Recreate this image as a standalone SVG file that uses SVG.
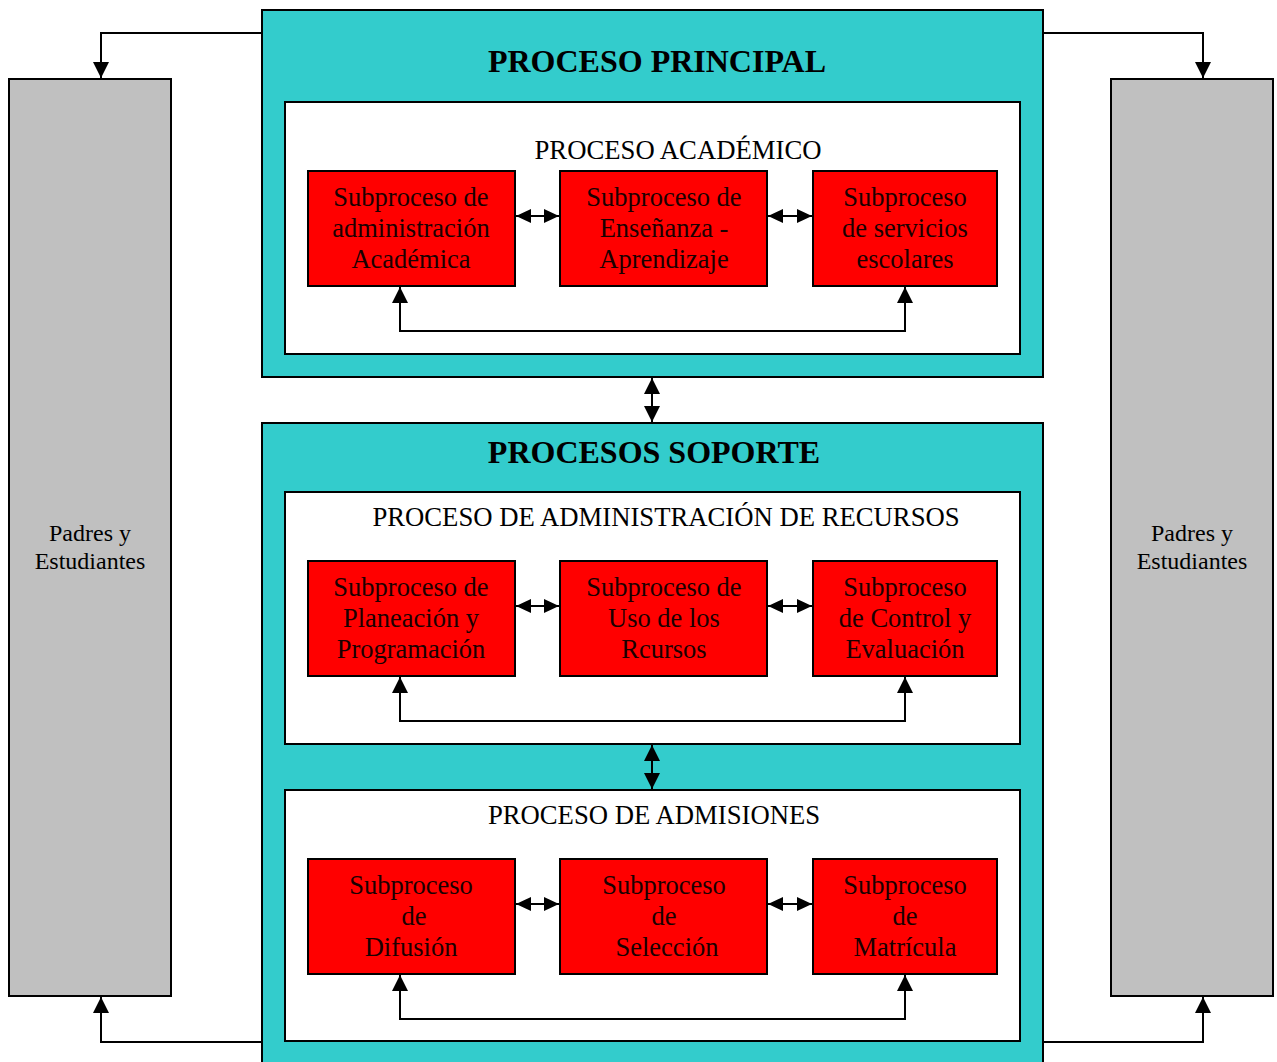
<svg xmlns="http://www.w3.org/2000/svg" width="1277" height="1062" viewBox="0 0 1277 1062">
<style>
.teal{fill:#33cccc;stroke:#000;stroke-width:2}
.white{fill:#fff;stroke:#000;stroke-width:2}
.gray{fill:#c0c0c0;stroke:#000;stroke-width:2}
.red{fill:#ff0000;stroke:#000;stroke-width:2}
.t{font-family:"Liberation Serif","Times New Roman",serif;fill:#000;text-anchor:middle}
.h{font-size:32px;font-weight:bold}
.s{font-size:26.7px}
.r{font-size:26.5px;fill:#1a0000}
.p{font-size:24px}
.c{fill:none;stroke:#000;stroke-width:2}
</style>
<defs>
<marker id="a" markerUnits="userSpaceOnUse" markerWidth="17" markerHeight="16" refX="16" refY="8" orient="auto-start-reverse"><path d="M0,0 L16,8 L0,16 z" fill="#000"/></marker>
<marker id="b" markerUnits="userSpaceOnUse" markerWidth="16" markerHeight="14" refX="15" refY="7" orient="auto-start-reverse"><path d="M0,0 L15,7 L0,14 z" fill="#000"/></marker>
</defs>
<rect width="1277" height="1062" fill="#fff"/>
<g id="padres-izq"><rect class="gray" x="9" y="79" width="162" height="917"/><text class="t p" x="90" y="541">Padres y</text><text class="t p" x="90" y="569">Estudiantes</text></g>
<g id="padres-der"><rect class="gray" x="1111" y="79" width="162" height="917"/><text class="t p" x="1192" y="541">Padres y</text><text class="t p" x="1192" y="569">Estudiantes</text></g>
<g id="proceso-principal"><rect class="teal" x="262" y="10" width="781" height="367"/><text class="t h" x="657" y="72">PROCESO PRINCIPAL</text></g>
<g id="proceso-academico"><rect class="white" x="285" y="102" width="735" height="252"/><text class="t s" x="678" y="159">PROCESO ACADÉMICO</text></g>
<g id="procesos-soporte"><rect class="teal" x="262" y="423" width="781" height="650"/><text class="t h" x="654" y="463">PROCESOS SOPORTE</text></g>
<g id="proceso-recursos"><rect class="white" x="285" y="492" width="735" height="252"/><text class="t s" x="666" y="526">PROCESO DE ADMINISTRACIÓN DE RECURSOS</text></g>
<g id="proceso-admisiones"><rect class="white" x="285" y="790" width="735" height="251"/><text class="t s" x="654" y="824">PROCESO DE ADMISIONES</text></g>
<g id="sub-admin-academica"><rect class="red" x="308" y="171" width="207" height="115"/><text class="t r" x="411" y="206">Subproceso de</text><text class="t r" x="411" y="237">administración</text><text class="t r" x="411" y="268">Académica</text></g>
<g id="sub-ensenanza"><rect class="red" x="560" y="171" width="207" height="115"/><text class="t r" x="664" y="206">Subproceso de</text><text class="t r" x="664" y="237">Enseñanza -</text><text class="t r" x="664" y="268">Aprendizaje</text></g>
<g id="sub-servicios"><rect class="red" x="813" y="171" width="184" height="115"/><text class="t r" x="905" y="206">Subproceso</text><text class="t r" x="905" y="237">de servicios</text><text class="t r" x="905" y="268">escolares</text></g>
<g id="sub-planeacion"><rect class="red" x="308" y="561" width="207" height="115"/><text class="t r" x="411" y="596">Subproceso de</text><text class="t r" x="411" y="627">Planeación y</text><text class="t r" x="411" y="658">Programación</text></g>
<g id="sub-uso"><rect class="red" x="560" y="561" width="207" height="115"/><text class="t r" x="664" y="596">Subproceso de</text><text class="t r" x="664" y="627">Uso de los</text><text class="t r" x="664" y="658">Rcursos</text></g>
<g id="sub-control"><rect class="red" x="813" y="561" width="184" height="115"/><text class="t r" x="905" y="596">Subproceso</text><text class="t r" x="905" y="627">de Control y</text><text class="t r" x="905" y="658">Evaluación</text></g>
<g id="sub-difusion"><rect class="red" x="308" y="859" width="207" height="115"/><text class="t r" x="411" y="894">Subproceso</text><text class="t r" x="414" y="925">de</text><text class="t r" x="411" y="956">Difusión</text></g>
<g id="sub-seleccion"><rect class="red" x="560" y="859" width="207" height="115"/><text class="t r" x="664" y="894">Subproceso</text><text class="t r" x="664" y="925">de</text><text class="t r" x="667" y="956">Selección</text></g>
<g id="sub-matricula"><rect class="red" x="813" y="859" width="184" height="115"/><text class="t r" x="905" y="894">Subproceso</text><text class="t r" x="905" y="925">de</text><text class="t r" x="905" y="956">Matrícula</text></g>
<g id="connectors">
<path class="c" d="M262,33 H101 V78" marker-end="url(#a)"/>
<path class="c" d="M1043,33 H1203 V78" marker-end="url(#a)"/>
<path class="c" d="M262,1042 H101 V997" marker-end="url(#a)"/>
<path class="c" d="M1043,1042 H1203 V997" marker-end="url(#a)"/>
<path class="c" d="M652,378 V422" marker-start="url(#a)" marker-end="url(#a)"/>
<path class="c" d="M652,745 V789" marker-start="url(#a)" marker-end="url(#a)"/>
<path class="c" d="M516,216 H559" marker-start="url(#b)" marker-end="url(#b)"/>
<path class="c" d="M768,216 H812" marker-start="url(#b)" marker-end="url(#b)"/>
<path class="c" d="M400,287 V331 H905 V287" marker-start="url(#a)" marker-end="url(#a)"/>
<path class="c" d="M516,606 H559" marker-start="url(#b)" marker-end="url(#b)"/>
<path class="c" d="M768,606 H812" marker-start="url(#b)" marker-end="url(#b)"/>
<path class="c" d="M400,677 V721 H905 V677" marker-start="url(#a)" marker-end="url(#a)"/>
<path class="c" d="M516,904 H559" marker-start="url(#b)" marker-end="url(#b)"/>
<path class="c" d="M768,904 H812" marker-start="url(#b)" marker-end="url(#b)"/>
<path class="c" d="M400,975 V1019 H905 V975" marker-start="url(#a)" marker-end="url(#a)"/>
</g>
</svg>
